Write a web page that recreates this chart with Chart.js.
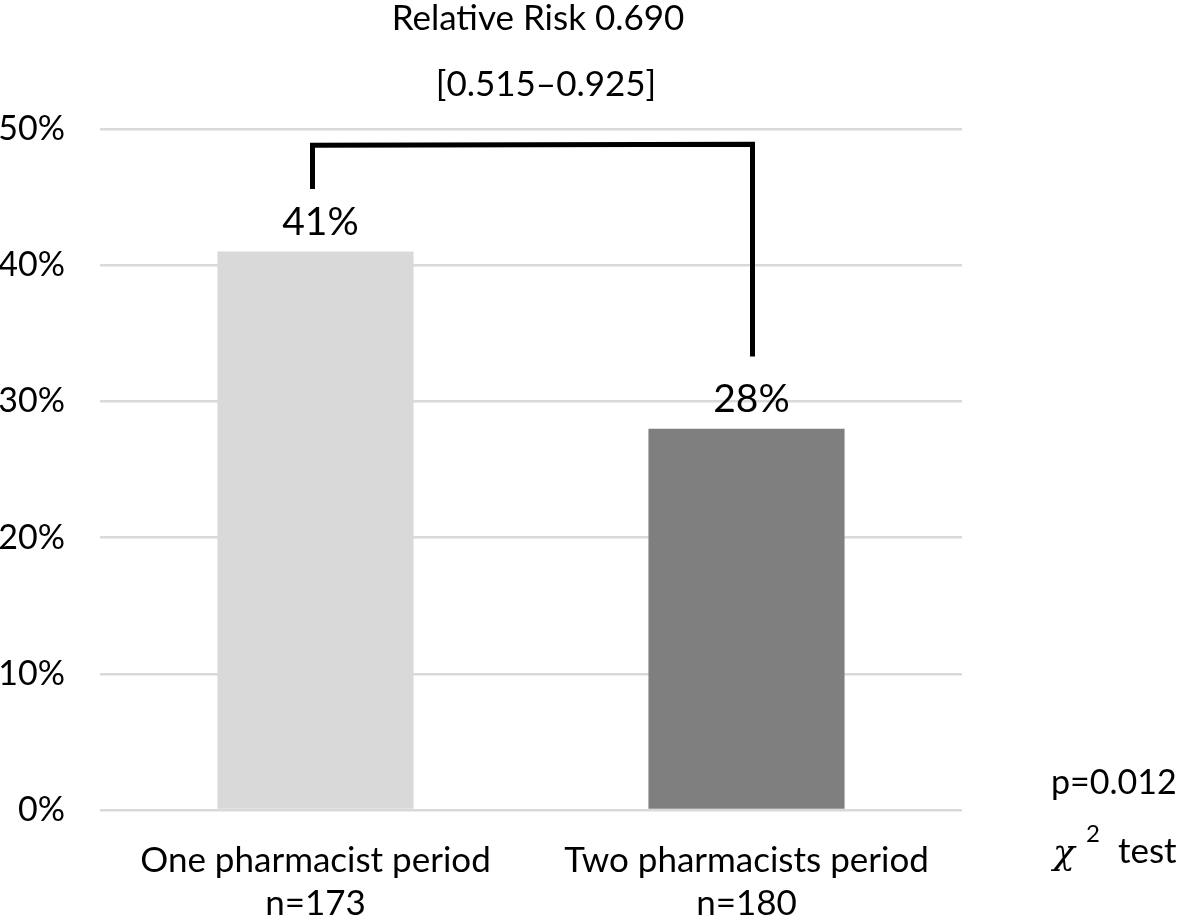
<!DOCTYPE html>
<html>
<head>
<meta charset="utf-8">
<script src="https://cdn.jsdelivr.net/npm/chart.js@4/dist/chart.umd.min.js"></script>
<style>
html,body{margin:0;padding:0;background:#fff;}
#wrap{width:1181px;height:919px;position:relative;}
</style>
</head>
<body>
<div id="wrap"><canvas id="c" width="1181" height="919"></canvas></div>
<script>
const categories = [["One pharmacist period","n=173"],["Two pharmacists period","n=180"]];
const values = [41, 28];
const barColors = ["#d9d9d9", "#7f7f7f"];
const yTicks = [0, 10, 20, 30, 40, 50];
const titleLines = ["Relative Risk 0.690", "[0.515\u20130.925]"];
const statLines = ["p=0.012", "test"];
// bracket heights in data units (%): left end, top, right end
const bracketLevels = [45.6, 48.8, 33.3];

const FONT = "Lato";
const FS = 35;

const overlay = {
  id: 'overlay',
  afterDatasetsDraw(chart) {
    const ctx = chart.ctx;
    const x = chart.scales.x, y = chart.scales.y;
    ctx.save();
    ctx.fillStyle = '#000';
    ctx.font = '39px ' + FONT;
    ctx.textAlign = 'center';
    ctx.textBaseline = 'middle';
    // data labels
    values.forEach((v, i) => {
      ctx.fillText(v + '%', x.getPixelForValue(i) + 5, y.getPixelForValue(v) - 29);
    });
    // bracket
    const xl = x.getPixelForValue(0) - 3, xr = x.getPixelForValue(1) + 6;
    ctx.strokeStyle = '#000';
    ctx.lineWidth = 5;
    ctx.lineJoin = 'miter';
    ctx.beginPath();
    ctx.moveTo(xl, y.getPixelForValue(bracketLevels[0]));
    ctx.lineTo(xl, y.getPixelForValue(bracketLevels[1]));
    ctx.lineTo(xr, y.getPixelForValue(bracketLevels[1]) - 1);
    ctx.lineTo(xr, y.getPixelForValue(bracketLevels[2]));
    ctx.stroke();
    // title
    ctx.font = '35px ' + FONT;
    ctx.fillText(titleLines[0], 538, 19);
    ctx.fillText(titleLines[1], 546, 85);
    // stats
    ctx.font = '34px ' + FONT;
    ctx.textAlign = 'left';
    ctx.fillText(statLines[0], 1051, 783);
    ctx.font = '35px ' + FONT;
    ctx.fillText(statLines[1], 1118, 852);
    ctx.font = 'italic 36px "DejaVu Serif"';
    ctx.fillText('\u03c7', 1053, 855);
    ctx.font = '24px ' + FONT;
    ctx.fillText('2', 1086, 834);
    ctx.restore();
  }
};

new Chart(document.getElementById('c'), {
  type: 'bar',
  data: {
    labels: categories,
    datasets: [{
      data: values,
      backgroundColor: barColors,
      borderWidth: 0,
      categoryPercentage: 1,
      barPercentage: 0.455
    }]
  },
  options: {
    responsive: false,
    animation: false,
    devicePixelRatio: 1,
    layout: { padding: { top: 129, right: 219, left: 0, bottom: 0 } },
    plugins: { legend: { display: false }, tooltip: { enabled: false } },
    scales: {
      x: {
        grid: { display: false, drawTicks: false },
        border: { display: false },
        ticks: { color: '#000', font: { family: FONT, size: FS, lineHeight: 1.23 }, padding: 29, maxRotation: 0, autoSkip: false },
        afterFit(s) { s.height = 109; }
      },
      y: {
        min: 0, max: 50,
        afterBuildTicks(s) { s.ticks = yTicks.map(v => ({ value: v })); },
        grid: { color: '#d9d9d9', lineWidth: 2.5, drawTicks: false },
        border: { display: false },
        ticks: { color: '#000', font: { family: FONT, size: 34 }, padding: 35, callback: v => v + '%' },
        afterFit(s) { s.width = 100; }
      }
    }
  },
  plugins: [overlay]
});
</script>
</body>
</html>
